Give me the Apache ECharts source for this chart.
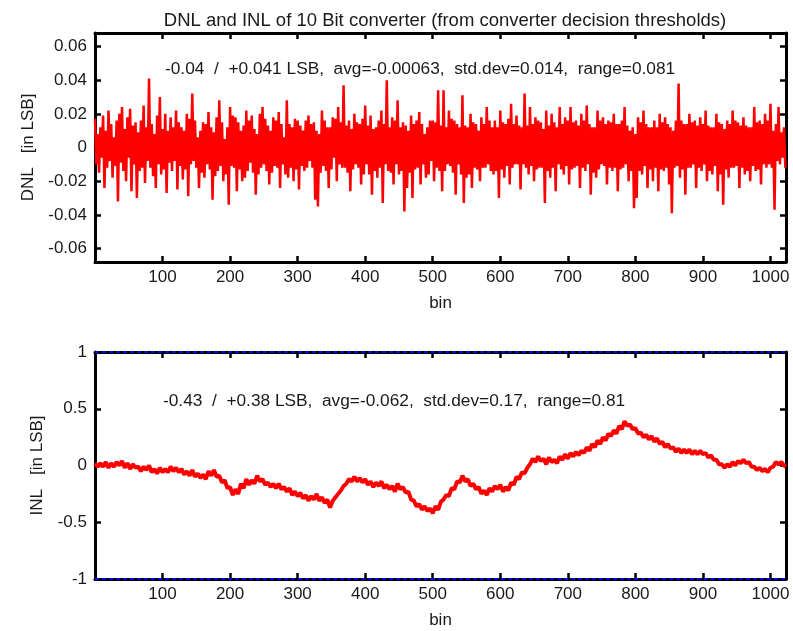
<!DOCTYPE html>
<html>
<head>
<meta charset="utf-8">
<script src="https://cdn.jsdelivr.net/npm/echarts@6/dist/echarts.min.js"></script>
<style>
  html, body { margin: 0; padding: 0; background: #fff; }
  #chart { width: 793px; height: 631px; }
</style>
</head>
<body>
<div id="chart"></div>
<script>
// bins are sampled every few codes, last sample sits on the last code
const LAST_BIN = 1023
const DNL_STEP = 2
const INL_STEP = 4

const xTicks = [100, 200, 300, 400, 500, 600, 700, 800, 900, 1000]
const dnlTicks = [-0.06, -0.04, -0.02, 0, 0.02, 0.04, 0.06]
const inlTicks = [-1, -0.5, 0, 0.5, 1]

// DNL, one value every 2 bins (one row = 64 bins)
const dnl = [
  0.017, -0.010, 0.008, -0.015, 0.012, -0.006, 0.019, -0.024, 0.010, -0.012, 0.022, -0.008, 0.014, -0.018, 0.006, -0.011, 0.016, -0.032, 0.020, -0.009, 0.024, -0.014, 0.011, -0.020, 0.018, -0.006, 0.023, -0.026, 0.013, -0.010, 0.015, -0.030,
  0.009, -0.014, 0.016, -0.012, 0.025, -0.021, 0.012, -0.008, 0.041, -0.012, 0.014, -0.017, 0.008, -0.024, 0.019, -0.010, 0.030, -0.016, 0.011, -0.013, 0.020, -0.027, 0.010, -0.009, 0.018, -0.014, 0.012, -0.008, 0.022, -0.025, 0.015, -0.011,
  0.012, -0.019, 0.010, -0.013, 0.020, -0.029, 0.017, -0.010, 0.032, -0.008, 0.016, -0.012, 0.006, -0.024, 0.010, -0.015, 0.015, -0.018, 0.014, -0.010, 0.021, -0.013, 0.012, -0.031, 0.009, -0.017, 0.018, -0.014, 0.028, -0.011, 0.015, -0.020,
  0.005, -0.016, 0.012, -0.034, 0.024, -0.011, 0.019, -0.012, 0.018, -0.026, 0.015, -0.013, 0.010, -0.020, 0.013, -0.018, 0.022, -0.014, 0.016, -0.009, 0.019, -0.015, 0.011, -0.028, 0.008, -0.016, 0.020, -0.012, 0.024, -0.010, 0.017, -0.014,
  0.013, -0.022, 0.010, -0.015, 0.018, -0.011, 0.016, -0.012, 0.021, -0.024, 0.014, -0.010, 0.006, -0.016, 0.028, -0.018, 0.014, -0.012, 0.012, -0.020, 0.017, -0.013, 0.016, -0.025, 0.013, -0.011, 0.010, -0.014, 0.016, -0.012, 0.019, -0.008,
  0.014, -0.012, 0.015, -0.031, 0.010, -0.035, 0.008, -0.015, 0.022, -0.011, 0.016, -0.014, 0.012, -0.024, 0.012, -0.013, 0.018, -0.006, 0.017, -0.020, 0.024, -0.010, 0.015, -0.012, 0.037, -0.012, 0.013, -0.015, 0.016, -0.026, 0.011, -0.013,
  0.020, -0.010, 0.015, -0.012, 0.014, -0.022, 0.017, -0.016, 0.025, -0.010, 0.013, -0.016, 0.019, -0.028, 0.011, -0.014, 0.012, -0.018, 0.016, -0.012, 0.022, -0.033, 0.014, -0.010, 0.040, -0.014, 0.012, -0.015, 0.018, -0.022, 0.016, -0.010,
  0.028, -0.016, 0.012, -0.014, 0.015, -0.038, 0.013, -0.024, 0.010, -0.015, 0.019, -0.030, 0.014, -0.013, 0.016, -0.012, 0.021, -0.022, 0.014, -0.010, 0.008, -0.018, 0.012, -0.016, 0.016, -0.008, 0.016, -0.020, 0.015, -0.012, 0.034, -0.014,
  0.013, -0.026, 0.034, -0.014, 0.012, -0.010, 0.022, -0.011, 0.017, -0.015, 0.016, -0.028, 0.014, -0.010, 0.012, -0.016, 0.031, -0.033, 0.013, -0.018, 0.012, -0.016, 0.020, -0.024, 0.015, -0.012, 0.014, -0.013, 0.010, -0.020, 0.018, -0.012,
  0.014, -0.012, 0.024, -0.010, 0.016, -0.014, 0.012, -0.016, 0.016, -0.014, 0.012, -0.030, 0.022, -0.013, 0.015, -0.018, 0.014, -0.011, 0.017, -0.022, 0.026, -0.012, 0.014, -0.010, 0.019, -0.010, 0.013, -0.025, 0.012, -0.010, 0.032, -0.012,
  0.013, -0.016, 0.024, -0.011, 0.014, -0.020, 0.018, -0.013, 0.016, -0.012, 0.015, -0.012, 0.011, -0.033, 0.022, -0.014, 0.013, -0.018, 0.020, -0.012, 0.015, -0.026, 0.012, -0.010, 0.024, -0.013, 0.014, -0.016, 0.018, -0.011, 0.016, -0.022,
  0.024, -0.013, 0.015, -0.012, 0.016, -0.011, 0.013, -0.024, 0.020, -0.012, 0.016, -0.014, 0.025, -0.010, 0.014, -0.028, 0.012, -0.015, 0.012, -0.018, 0.022, -0.013, 0.016, -0.010, 0.018, -0.011, 0.014, -0.022, 0.016, -0.012, 0.015, -0.014,
  0.020, -0.012, 0.014, -0.026, 0.014, -0.013, 0.016, -0.012, 0.024, -0.010, 0.013, -0.020, 0.010, -0.014, 0.012, -0.036, 0.008, -0.030, 0.018, -0.014, 0.015, -0.016, 0.022, -0.011, 0.014, -0.024, 0.012, -0.013, 0.012, -0.020, 0.016, -0.012,
  0.012, -0.026, 0.020, -0.013, 0.015, -0.014, 0.018, -0.012, 0.014, -0.022, 0.012, -0.039, 0.010, -0.012, 0.016, -0.011, 0.038, -0.018, 0.016, -0.013, 0.014, -0.028, 0.014, -0.012, 0.020, -0.012, 0.015, -0.010, 0.016, -0.024, 0.013, -0.012,
  0.018, -0.014, 0.014, -0.010, 0.022, -0.020, 0.013, -0.014, 0.012, -0.016, 0.012, -0.011, 0.020, -0.026, 0.015, -0.016, 0.014, -0.034, 0.011, -0.013, 0.016, -0.018, 0.014, -0.012, 0.022, -0.012, 0.016, -0.011, 0.015, -0.024, 0.013, -0.012,
  0.018, -0.016, 0.013, -0.014, 0.012, -0.020, 0.012, -0.011, 0.024, -0.014, 0.015, -0.013, 0.016, -0.022, 0.014, -0.010, 0.020, -0.012, 0.016, -0.010, 0.026, -0.012, 0.010, -0.037, 0.014, -0.008, 0.024, -0.010, 0.009, -0.006, 0.012, -0.012
]

// INL, one value every 4 bins (one row = 128 bins)
const inl = [
  0.02, -0.01, 0.02, -0.01, 0.03, -0.02, 0.02, -0.01, 0.03, 0.00, 0.04, -0.02, 0.02, -0.03, 0.01, -0.02, -0.01, -0.05, -0.01, -0.04, 0.00, -0.06, -0.03, -0.07, -0.02, -0.06, -0.03, -0.06, -0.01, -0.05, -0.02, -0.06,
  -0.03, -0.08, -0.05, -0.09, -0.04, -0.10, -0.07, -0.11, -0.08, -0.12, -0.05, -0.09, -0.04, -0.10, -0.09, -0.15, -0.13, -0.20, -0.19, -0.26, -0.21, -0.25, -0.16, -0.20, -0.12, -0.17, -0.13, -0.16, -0.09, -0.14, -0.12, -0.17,
  -0.15, -0.19, -0.16, -0.20, -0.16, -0.21, -0.19, -0.23, -0.20, -0.26, -0.23, -0.27, -0.24, -0.29, -0.26, -0.31, -0.27, -0.30, -0.25, -0.31, -0.28, -0.33, -0.30, -0.37, -0.31, -0.28, -0.25, -0.22, -0.18, -0.16, -0.12, -0.14,
  -0.10, -0.14, -0.11, -0.15, -0.12, -0.17, -0.14, -0.19, -0.15, -0.18, -0.14, -0.20, -0.17, -0.21, -0.18, -0.23, -0.16, -0.21, -0.19, -0.24, -0.23, -0.30, -0.31, -0.36, -0.34, -0.39, -0.36, -0.40, -0.38, -0.42, -0.36, -0.39,
  -0.32, -0.30, -0.26, -0.27, -0.20, -0.21, -0.14, -0.15, -0.09, -0.14, -0.12, -0.18, -0.16, -0.21, -0.19, -0.25, -0.22, -0.26, -0.20, -0.23, -0.18, -0.21, -0.17, -0.23, -0.19, -0.22, -0.15, -0.17, -0.10, -0.12, -0.06, -0.07,
  -0.02, 0.01, 0.06, 0.03, 0.08, 0.04, 0.06, 0.01, 0.07, 0.03, 0.05, 0.02, 0.08, 0.05, 0.10, 0.06, 0.11, 0.08, 0.12, 0.09, 0.13, 0.11, 0.16, 0.13, 0.19, 0.16, 0.22, 0.19, 0.25, 0.22, 0.28, 0.26,
  0.31, 0.28, 0.35, 0.32, 0.39, 0.35, 0.36, 0.32, 0.33, 0.28, 0.29, 0.25, 0.27, 0.23, 0.26, 0.21, 0.24, 0.19, 0.21, 0.16, 0.19, 0.15, 0.16, 0.12, 0.15, 0.11, 0.14, 0.11, 0.14, 0.10, 0.13, 0.10,
  0.13, 0.10, 0.11, 0.07, 0.09, 0.05, 0.05, 0.01, 0.01, -0.02, 0.01, -0.01, 0.03, 0.00, 0.04, 0.02, 0.05, 0.02, 0.03, -0.01, -0.01, -0.04, -0.02, -0.05, -0.03, -0.06, -0.02, -0.01, 0.03, 0.01, 0.03, 0.00,
  -0.01
]

const dnlText = '-0.04  /  +0.041 LSB,  avg=-0.00063,  std.dev=0.014,  range=0.081'
const inlText = '-0.43  /  +0.38 LSB,  avg=-0.062,  std.dev=0.17,  range=0.81'

const FONT = 'Liberation Sans, Arial, sans-serif'
const TXT = '#1a1a1a'

function pairs (vals, step) {
  return vals.map((v, i) => [Math.min(i * step, LAST_BIN), v])
}

function xAx (grid, top) {
  return {
    type: 'value', gridIndex: grid, min: 0, max: LAST_BIN,
    position: top ? 'top' : 'bottom',
    name: top ? '' : 'bin', nameLocation: 'middle', nameGap: 33,
    nameTextStyle: { color: TXT, fontSize: 17, fontFamily: FONT },
    axisLine: { show: true, onZero: false, lineStyle: { color: '#000', width: 3 } },
    axisTick: { show: true, inside: true, length: 6, customValues: xTicks, lineStyle: { color: '#000', width: 2.5 } },
    axisLabel: {
      show: !top, customValues: xTicks, color: TXT, fontSize: 17, fontFamily: FONT, margin: 7,
      formatter: v => String(v)
    },
    splitLine: { show: false }
  }
}

function yAx (grid, right, min, max, ticks, name, gap) {
  return {
    type: 'value', gridIndex: grid, min: min, max: max,
    position: right ? 'right' : 'left',
    name: right ? '' : name, nameLocation: 'middle', nameGap: gap,
    nameTextStyle: { color: TXT, fontSize: 17, fontFamily: FONT },
    axisLine: { show: true, onZero: false, lineStyle: { color: '#000', width: 3 } },
    axisTick: { show: true, inside: true, length: 6, customValues: ticks, lineStyle: { color: '#000', width: 2.5 } },
    axisLabel: {
      show: !right, customValues: ticks, color: TXT, fontSize: 17, fontFamily: FONT, margin: 8,
      formatter: v => String(v)
    },
    splitLine: { show: false }
  }
}

const chart = echarts.init(document.getElementById('chart'))
chart.setOption({
  animation: false,
  backgroundColor: '#fff',
  title: {
    text: 'DNL and INL of 10 Bit converter (from converter decision thresholds)',
    left: 440, top: 6, textAlign: 'center',
    textStyle: { color: TXT, fontSize: 18.5, fontWeight: 'normal', fontFamily: FONT }
  },
  grid: [
    { left: 95, right: 7, top: 33, height: 229 },
    { left: 95, right: 7, top: 352, height: 227 }
  ],
  xAxis: [xAx(0, false), xAx(0, true), xAx(1, false), xAx(1, true)],
  yAxis: [
    yAx(0, false, -0.068, 0.068, dnlTicks, 'DNL   [in LSB]', 58),
    yAx(0, true, -0.068, 0.068, dnlTicks, '', 0),
    yAx(1, false, -1, 1, inlTicks, 'INL   [in LSB]', 49),
    yAx(1, true, -1, 1, inlTicks, '', 0)
  ],
  graphic: [
    { type: 'text', left: 165, top: 61, style: { text: dnlText, fill: TXT, font: '17.3px ' + FONT } },
    { type: 'text', left: 163, top: 393, style: { text: inlText, fill: TXT, font: '17.3px ' + FONT } }
  ],
  series: [
    {
      name: 'DNL', type: 'line', xAxisIndex: 0, yAxisIndex: 0,
      data: pairs(dnl, DNL_STEP), showSymbol: false,
      lineStyle: { color: '#ff0000', width: 2.5 }
    },
    {
      name: 'INL', type: 'line', xAxisIndex: 2, yAxisIndex: 2,
      data: pairs(inl, INL_STEP), showSymbol: false,
      lineStyle: { color: '#ff0000', width: 4 },
      markLine: {
        silent: true, symbol: 'none', label: { show: false },
        lineStyle: { color: '#0000ff', type: [4, 3], width: 2 },
        data: [{ yAxis: 1 }, { yAxis: -1 }]
      }
    }
  ]
})
</script>
</body>
</html>
